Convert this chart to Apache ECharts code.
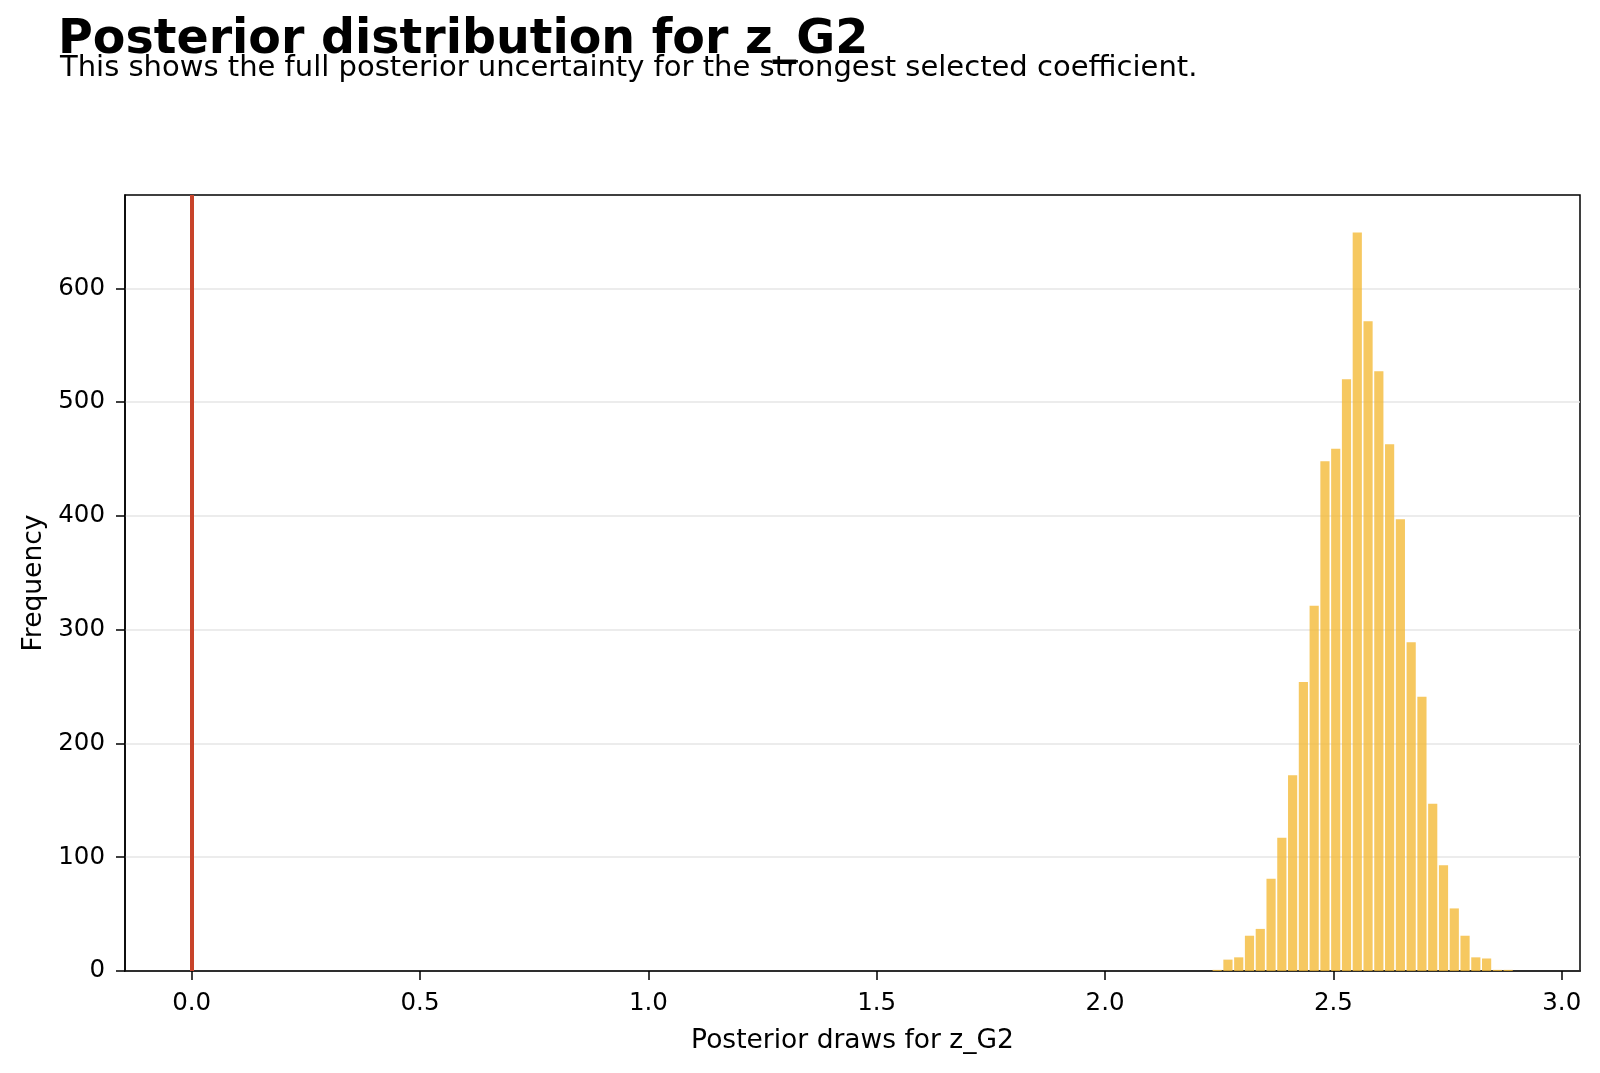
<!DOCTYPE html>
<html>
<head>
<meta charset="utf-8">
<title>Posterior distribution for z_G2</title>
<script src="https://cdn.jsdelivr.net/npm/echarts@6/dist/echarts.min.js"></script>
<style>
  html, body { margin: 0; padding: 0; background: #fff; }
  #chart { width: 1600px; height: 1073px; }
</style>
</head>
<body>
<div id="chart"></div>
<script>
// histogram bins (left edges), width of each bin and counts
const binLefts = [
  2.2337, 2.2573, 2.2809, 2.3045, 2.3281, 2.3517, 2.3753, 2.3989, 2.4225, 2.4461,
  2.4697, 2.4933, 2.5169, 2.5405, 2.5641, 2.5877, 2.6113, 2.6349, 2.6585, 2.6821,
  2.7057, 2.7293, 2.7529, 2.7765, 2.8001, 2.8237, 2.8473, 2.8709
]
const binWidth = 0.0236
const counts = [
  1, 10, 12, 31, 37, 81, 117, 172, 254, 321,
  448, 459, 520, 649, 571, 527, 463, 397, 289, 241,
  147, 93, 55, 31, 12, 11, 1, 1
]
// tick labels
const xTicks = [0, 0.5, 1.0, 1.5, 2.0, 2.5, 3.0]
const yTicks = [0, 100, 200, 300, 400, 500, 600]
// reference line at zero
const refLine = 0

const font = 'DejaVu Sans'
const chart = echarts.init(document.getElementById('chart'))

const option = {
  backgroundColor: '#fff',
  animation: false,
  title: [
    {
      text: 'Posterior distribution for z_G2',
      left: 53,
      top: 12,
      textStyle: { fontFamily: font, fontSize: 47.5, fontWeight: 'bold', color: '#000' },
    },
    {
      text: 'This shows the full posterior uncertainty for the strongest selected coefficient.',
      left: 55,
      top: 49,
      textStyle: { fontFamily: font, fontSize: 29, fontWeight: 'normal', color: '#000' },
    },
  ],
  grid: {
    left: 125,
    right: 20,
    top: 195,
    bottom: 102,
    show: true,
    borderColor: '#000',
    borderWidth: 1.5,
    containLabel: false,
  },
  xAxis: {
    type: 'value',
    min: -0.146,
    max: 3.04,
    name: 'Posterior draws for z_G2',
    nameLocation: 'middle',
    nameGap: 57,
    nameTextStyle: { fontFamily: font, fontSize: 26.5, color: '#000' },
    axisLine: { show: true, onZero: false, lineStyle: { color: '#000', width: 1.5 } },
    axisTick: { show: true, length: 9, customValues: xTicks, lineStyle: { color: '#000', width: 1.5 } },
    axisLabel: {
      customValues: xTicks,
      margin: 20,
      fontFamily: font,
      fontSize: 24.5,
      color: '#000',
      formatter: (v) => v.toFixed(1),
    },
    splitLine: { show: false },
  },
  yAxis: {
    type: 'value',
    min: 0,
    max: 682,
    interval: 100,
    name: 'Frequency',
    nameLocation: 'middle',
    nameGap: 77,
    nameRotate: 90,
    nameTextStyle: { fontFamily: font, fontSize: 26.5, color: '#000' },
    axisLine: { show: true, onZero: false, lineStyle: { color: '#000', width: 1.5 } },
    axisTick: { show: true, length: 9, customValues: yTicks, lineStyle: { color: '#000', width: 1.5 } },
    axisLabel: {
      customValues: yTicks,
      margin: 20,
      fontFamily: font,
      fontSize: 24.5,
      color: '#000',
    },
    splitLine: { show: true, lineStyle: { color: '#e6e6e6', width: 1.5 } },
  },
  series: [
    {
      type: 'custom',
      z: 1,
      data: binLefts.map((x, i) => [x, x + binWidth, counts[i]]),
      encode: { x: [0, 1], y: 2 },
      renderItem: (params, api) => {
        const p0 = api.coord([api.value(0), 0])
        const p1 = api.coord([api.value(1), api.value(2)])
        // leave a thin white gap between neighbouring bars
        return {
          type: 'rect',
          shape: {
            x: p0[0] + 0.8,
            y: p1[1],
            width: p1[0] - p0[0] - 1.6,
            height: p0[1] - p1[1],
          },
          style: { fill: 'rgba(244,186,56,0.8)' },
        }
      },
      markLine: {
        silent: true,
        symbol: 'none',
        label: { show: false },
        lineStyle: { color: '#c8432a', width: 4, type: 'solid' },
        data: [{ xAxis: refLine }],
      },
    },
  ],
}

chart.setOption(option)
</script>
</body>
</html>
